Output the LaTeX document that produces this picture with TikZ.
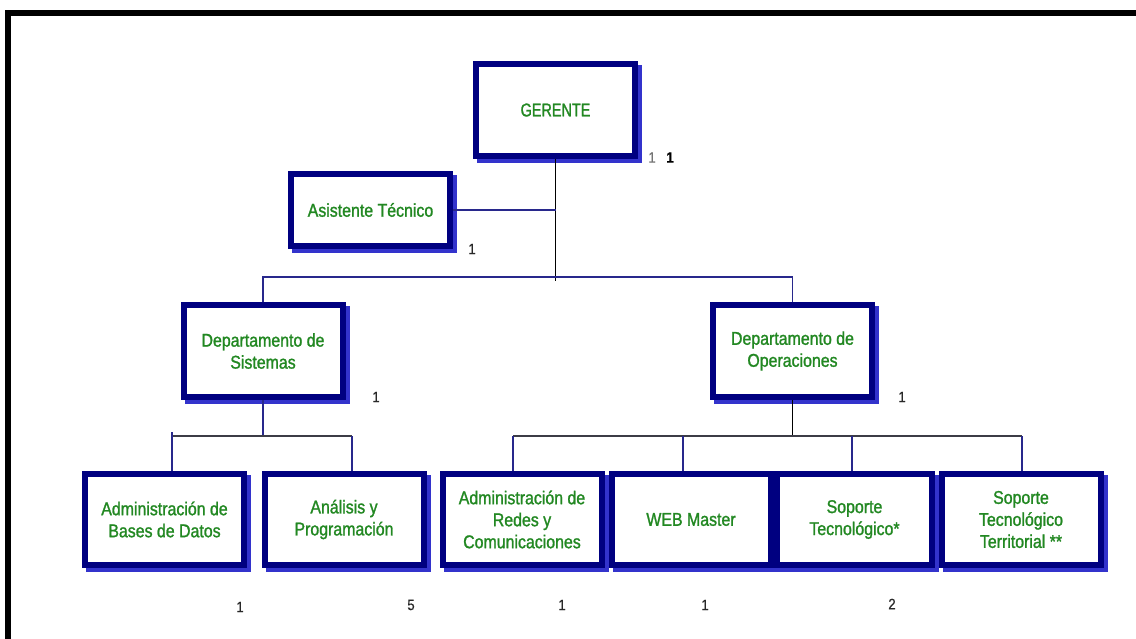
\documentclass[tikz,border=0pt]{standalone}
\usepackage{fontspec}
\setmainfont{Liberation Sans}
\newfontfamily\boxfont[FakeStretch=0.86,FakeBold=1.3]{Liberation Sans}
\newfontfamily\gerfont[FakeStretch=0.78,FakeBold=1.3]{Liberation Sans}
\newfontfamily\numfont[FakeStretch=0.87,FakeBold=0.6]{Liberation Sans}
\usetikzlibrary{shadows}
\definecolor{navy}{RGB}{0,0,128}
\definecolor{shadowblue}{RGB}{51,51,204}
\definecolor{tgreen}{RGB}{34,136,34}
\definecolor{lineblue}{RGB}{40,40,140}
\definecolor{dgray}{RGB}{60,60,70}
\definecolor{numgray}{RGB}{40,40,40}
\begin{document}
\begin{tikzpicture}[x=1pt,y=-1pt,
  orgbox/.style={draw=navy, line width=6pt, fill=white, inner sep=0pt,
    minimum width=159pt, minimum height=92pt, align=center, text=tgreen,
    font=\boxfont\fontsize{18.5}{22}\selectfont,
    drop shadow={shadow xshift=4pt, shadow yshift=-4pt, draw=shadowblue, line width=6pt, fill=shadowblue, opacity=1}},
  conn/.style={draw=lineblue, line width=1.3pt},
  blk/.style={draw=black, line width=1.3pt},
  hline/.style={draw=dgray, line width=1.3pt},
  num/.style={font=\numfont\fontsize{15}{15}\selectfont, text=numgray, inner sep=0pt}]
\useasboundingbox (0,0) rectangle (1136,639);
\fill[white] (0,0) rectangle (1136,639);
\fill[black] (5,10) rectangle (1136,16);
\fill[black] (5,10) rectangle (11,639);

% connectors
\coordinate (t1) at (557,281);
\coordinate (h1) at (0,277);
\coordinate (h2) at (0,436);
\coordinate (v1) at (172,436);
\coordinate (v2) at (352,436);
\coordinate (w1) at (513,436);
\coordinate (w2) at (683,436);
\coordinate (w3) at (852,436);
\coordinate (w4) at (1022,436);

% boxes
\node[orgbox] (G) at (555.5,110) {\gerfont GERENTE};
\node[orgbox, minimum height=72pt] (A) at (370.5,210) {Asistente Técnico};
\node[orgbox] (DS) at (263,351) {Departamento de\\Sistemas};
\node[orgbox] (DO) at (792.5,351) {Departamento de\\Operaciones};
\node[orgbox, minimum height=91pt] (B1) at (164.5,519.5) {Administración de\\Bases de Datos};
\node[orgbox, minimum height=91pt] (B2) at (344,519.5) {Análisis y\\Programación};
\node[orgbox, minimum height=91pt] (B3) at (522,519.5) {Administración de\\Redes y\\Comunicaciones};
\node[orgbox, minimum height=91pt] (B4) at (691,519.5) {WEB Master};
\node[orgbox, minimum height=91pt, minimum width=155pt] (B5) at (854.5,519.5) {Soporte\\Tecnológico*};
\node[orgbox, minimum height=91pt] (B6) at (1021,519.5) {Soporte\\Tecnológico\\Territorial **};

\draw[blk] (G.south) -- (G.south |- t1);
\draw[conn] (A.east) -- (A.east -| G.south);
\draw[conn] (DS.north) -- (DS.north |- h1) -- (DO.north |- h1) -- (DO.north);

\draw[conn] (DS.south) -- (DS.south |- h2);
\draw[hline] (v1) -- (v2);
\draw[conn] ([yshift=4pt]v1) -- (v1 |- B1.north);
\draw[conn] (v2) -- (v2 |- B2.north);

\draw[blk] (DO.south) -- (DO.south |- h2);
\draw[hline] (w1) -- (w4);
\draw[conn] (w1) -- (w1 |- B3.north);
\draw[conn] (w2) -- (w2 |- B4.north);
\draw[conn] (w3) -- (w3 |- B5.north);
\draw[conn] (w4) -- (w4 |- B6.north);

% numbers
\node[num, text=black!55] (n1) at (652,157.5) {1};
\node[num, text=black, font=\numfont\fontsize{15}{15}\selectfont\bfseries] (n2) at (670,157.5) {1};
\node[num] (n3) at (472,249) {1};
\node[num] (n4) at (376,397) {1};
\node[num] (n5) at (902,397) {1};
\node[num] (n6) at (240,607) {1};
\node[num] (n7) at (411,605) {5};
\node[num] (n8) at (562,605) {1};
\node[num] (n9) at (705,605) {1};
\node[num] (n10) at (892,604) {2};
\end{tikzpicture}
\end{document}
